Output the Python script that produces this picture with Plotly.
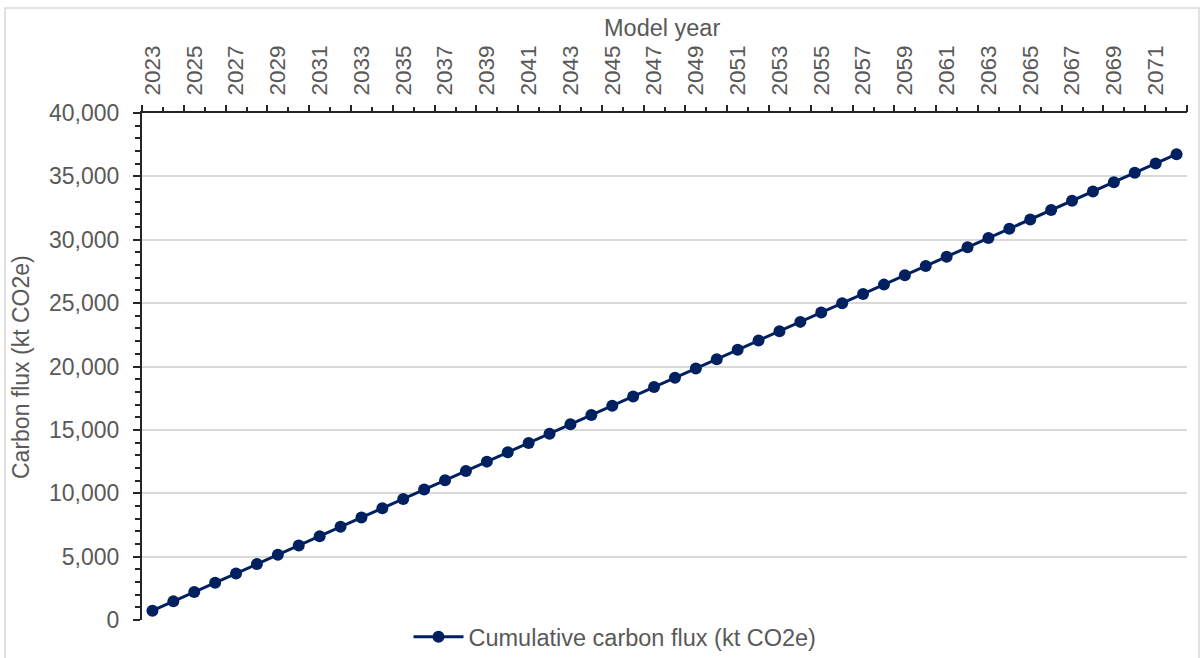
import plotly.graph_objects as go

years = list(range(2023, 2073))
cumulative_flux = [735, 1470, 2205, 2940, 3675, 4410, 5145, 5880, 6615, 7350,
                   8085, 8820, 9555, 10290, 11025, 11760, 12495, 13230, 13965, 14700,
                   15435, 16170, 16905, 17640, 18375, 19110, 19845, 20580, 21315, 22050,
                   22785, 23520, 24255, 24990, 25725, 26460, 27195, 27930, 28665, 29400,
                   30135, 30870, 31605, 32340, 33075, 33810, 34545, 35280, 36015, 36750]
x_tick_labels = [str(y) for y in years[::2]]
x_tick_vals = years[::2]

series_name = "Cumulative carbon flux (kt CO2e)"
navy = "#002060"
gray_text = "#595959"
font_family = "Liberation Sans, Arial, sans-serif"

L, R, T, B = 142, 16, 113, 38
W, H = 1203, 658
pw, ph = W - L - R, H - T - B

def px_x(p):
    return (p - L) / pw

def px_y(p):
    return (H - B - p) / ph

fig = go.Figure()
fig.add_trace(go.Scatter(
    x=years, y=cumulative_flux, mode="lines+markers", name=series_name,
    line=dict(color=navy, width=3),
    marker=dict(color=navy, size=12),
))
# invisible trace to carry the secondary (tick-only) x axis
fig.add_trace(go.Scatter(x=[years[0]], y=[cumulative_flux[0]], xaxis="x2",
                         mode="markers", marker=dict(opacity=0),
                         showlegend=False, hoverinfo="skip"))

xr = [years[0] - 0.5, years[-1] + 0.5]
fig.update_layout(
    width=W, height=H,
    margin=dict(l=L, r=R, t=T, b=B, autoexpand=False),
    paper_bgcolor="white", plot_bgcolor="white",
    font=dict(family=font_family, color=gray_text, size=23),
    showlegend=True,
    legend=dict(orientation="h", x=px_x(615), xanchor="center",
                y=px_y(637), yanchor="middle",
                font=dict(size=23.5, color=gray_text), itemwidth=50,
                bgcolor="rgba(0,0,0,0)"),
    xaxis=dict(
        range=xr, side="top", tickmode="array",
        tickvals=x_tick_vals, ticktext=x_tick_labels, tickangle=-90,
        ticks="", showgrid=False, zeroline=False,
        showline=True, linecolor="#262626", linewidth=2,
        tickfont=dict(size=22.5, color=gray_text),
        ticklabelstandoff=11,
        minor=dict(tickmode="linear", tick0=xr[0], dtick=1, ticks="outside",
                   ticklen=4, tickcolor="#262626", tickwidth=2, showgrid=False),
    ),
    xaxis2=dict(
        range=xr, overlaying="x", side="top", tickmode="linear",
        tick0=xr[0], dtick=2, ticks="outside", ticklen=7, tickwidth=2,
        tickcolor="#262626", showticklabels=False, showgrid=False,
        zeroline=False, showline=False,
    ),
    yaxis=dict(
        range=[0, 40000], tickmode="linear", tick0=0, dtick=5000,
        tickformat=",d", ticks="outside", ticklen=7, tickwidth=2,
        tickcolor="#262626", showline=True, linecolor="#262626", linewidth=2,
        showgrid=True, gridcolor="#d9d9d9", gridwidth=2, zeroline=False,
        tickfont=dict(size=23, color=gray_text),
        ticklabelstandoff=9,
        minor=dict(tickmode="linear", tick0=0, dtick=1000, ticks="outside",
                   ticklen=5, tickwidth=2, tickcolor="#262626", showgrid=False),
    ),
    annotations=[
        dict(text="Model year", x=px_x(662), y=px_y(28), xref="paper",
             yref="paper", showarrow=False, xanchor="center", yanchor="middle",
             font=dict(size=23.5, color=gray_text)),
        dict(text="Carbon flux (kt CO2e)", x=px_x(21), y=px_y(367),
             xref="paper", yref="paper", showarrow=False, textangle=-90,
             xanchor="center", yanchor="middle",
             font=dict(size=23, color=gray_text)),
    ],
    shapes=[
        dict(type="rect", xref="paper", yref="paper",
             x0=px_x(5), x1=px_x(1199), y0=px_y(665), y1=px_y(8),
             line=dict(color="#d9d9d9", width=1.5), fillcolor="rgba(0,0,0,0)",
             layer="below"),
    ],
)

fig.write_html("out.html", config={"displayModeBar": False},
               post_script="document.body.style.margin='0px';document.body.style.padding='0px';")
